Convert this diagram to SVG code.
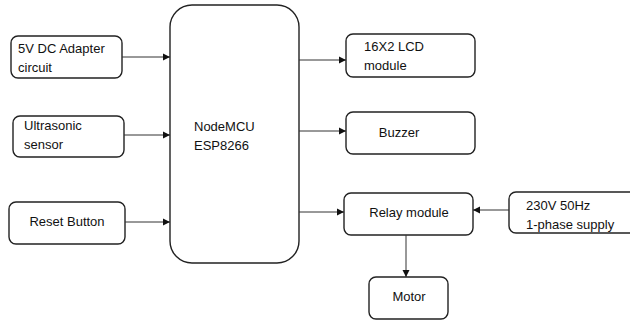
<svg xmlns="http://www.w3.org/2000/svg" width="630" height="320" viewBox="0 0 630 320">
<style>
.box{fill:#fff;stroke:#222;stroke-width:1.4}
.t{font-family:"Liberation Sans",Arial,sans-serif;font-size:13px;fill:#111}
.c{text-anchor:middle}
.ln{stroke:#333;stroke-width:1;fill:none;marker-end:url(#ah)}
</style>
<defs>
<marker id="ah" markerWidth="8" markerHeight="8" refX="7" refY="4" orient="auto" markerUnits="userSpaceOnUse">
<path d="M0,0.5 L7,4 L0,7.5 Z" fill="#111"/>
</marker>
</defs>
<rect width="630" height="320" fill="#fff"/>
<g id="adapter"><rect class="box" x="11" y="36" width="111" height="42" rx="7"/><text class="t" x="18" y="53">5V DC Adapter</text><text class="t" x="18" y="72">circuit</text></g>
<g id="ultrasonic"><rect class="box" x="13" y="116" width="111" height="41" rx="7"/><text class="t" x="24" y="130">Ultrasonic</text><text class="t" x="24" y="149">sensor</text></g>
<g id="reset"><rect class="box" x="9" y="202" width="116" height="42" rx="7"/><text class="t c" x="67" y="226">Reset Button</text></g>
<g id="nodemcu"><rect class="box" x="170" y="5" width="129" height="258" rx="22"/><text class="t" x="194" y="131">NodeMCU</text><text class="t" x="194" y="150">ESP8266</text></g>
<g id="lcd"><rect class="box" x="346" y="34" width="129" height="43" rx="7"/><text class="t" x="364" y="51">16X2 LCD</text><text class="t" x="364" y="70">module</text></g>
<g id="buzzer"><rect class="box" x="346" y="112" width="129" height="42" rx="7"/><text class="t c" x="399" y="137">Buzzer</text></g>
<g id="relay"><rect class="box" x="344" y="193" width="129" height="42" rx="7"/><text class="t c" x="409" y="217">Relay module</text></g>
<g id="supply"><rect class="box" x="509" y="192" width="135" height="41" rx="7"/><text class="t" x="526" y="210">230V 50Hz</text><text class="t" x="526" y="229">1-phase supply</text></g>
<g id="motor"><rect class="box" x="369" y="277" width="79" height="42" rx="7"/><text class="t c" x="409" y="301">Motor</text></g>
<g id="connectors">
<line class="ln" x1="122" y1="57" x2="170" y2="57"/>
<line class="ln" x1="124" y1="135" x2="170" y2="135"/>
<line class="ln" x1="125" y1="222" x2="170" y2="222"/>
<line class="ln" x1="299" y1="60" x2="346" y2="60"/>
<line class="ln" x1="299" y1="131" x2="346" y2="131"/>
<line class="ln" x1="299" y1="212" x2="344" y2="212"/>
<line class="ln" x1="509" y1="210" x2="473" y2="210"/>
<line class="ln" x1="406" y1="235" x2="406" y2="277"/>
</g>
</svg>
